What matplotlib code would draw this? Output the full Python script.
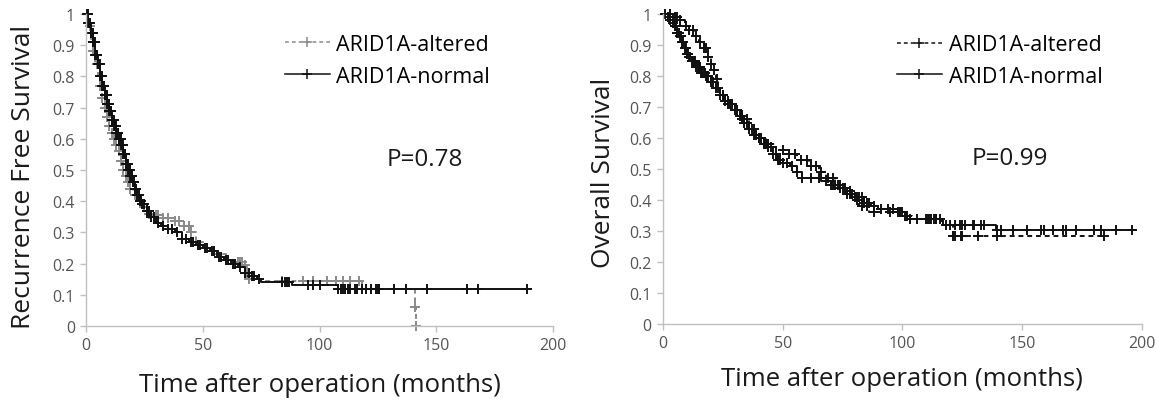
import numpy as np
import matplotlib
matplotlib.use("Agg")
import matplotlib.pyplot as plt

plt.rcParams['font.family'] = ['Open Sans', 'DejaVu Sans']

# Recurrence free survival, ARID1A-normal (step times / survival after step)
rfs_norm_t = [0, 1, 2, 3, 4, 5, 6, 7, 8, 9, 10, 11, 12, 13, 14, 15, 16, 17, 18, 19, 20,
              21, 22, 23, 24, 26, 28, 30, 32, 35, 38, 41, 44, 47, 50, 53, 56, 59, 62,
              65, 68, 71, 73, 75, 88, 108, 125]
rfs_norm_s = [1.0, 0.97, 0.94, 0.91, 0.87, 0.84, 0.80, 0.77, 0.74, 0.71, 0.69, 0.66, 0.64,
              0.62, 0.60, 0.58, 0.55, 0.52, 0.50, 0.48, 0.46, 0.44, 0.42, 0.40, 0.39, 0.37,
              0.35, 0.33, 0.32, 0.31, 0.30, 0.28, 0.27, 0.26, 0.25, 0.24, 0.22, 0.21, 0.20,
              0.19, 0.17, 0.16, 0.15, 0.14, 0.13, 0.12, 0.117]
rfs_norm_end = 190
rfs_norm_cens = [0.5, 0.8, 1, 1.3, 1.6, 2, 2.3, 2.5, 2.8, 3, 3.3, 3.5, 3.8, 4, 4.3, 4.5,
                 4.8, 5, 5.3, 5.5, 5.8, 6, 6.3, 6.5, 6.8, 7, 7.3, 7.5, 7.8, 8, 8.3, 8.5,
                 8.8, 9, 9.3, 9.5, 9.8, 10, 10.3, 10.5, 10.8, 11, 11.3, 11.5, 11.8, 12,
                 12.3, 12.5, 12.8, 13, 13.3, 13.5, 13.8, 14, 14.3, 14.5, 14.8, 15, 15.3,
                 15.5, 15.8, 16, 16.3, 16.5, 16.8, 17, 17.3, 17.5, 17.8, 18, 18.3, 18.5,
                 18.8, 19, 19.3, 19.5, 19.8, 20, 20.5, 21, 21.5, 22, 22.5, 23, 23.5, 24,
                 25, 26, 27, 28, 29, 31, 33, 35, 37, 39, 41, 43, 45, 46, 48, 49, 51, 52,
                 54, 55, 57, 58, 60, 61, 63, 64, 66, 68, 70, 71, 72, 74, 84, 85, 86, 87, 95,
                 97, 100, 108, 109, 110, 111, 112, 113, 115, 116, 118, 120, 122, 124, 125,
                 125.5, 132, 137, 146, 163, 168, 189]

# Recurrence free survival, ARID1A-altered
rfs_alt_t = [0, 1, 2, 3, 4, 5, 6, 7, 8, 9, 10, 11, 12, 13, 14, 15, 16, 17, 18, 19, 20,
             22, 24, 26, 29, 33, 38, 42, 45, 47, 50, 55, 60, 64, 68, 69, 70, 76, 118,
             141, 141.5]
rfs_alt_s = [1.0, 0.96, 0.92, 0.88, 0.84, 0.80, 0.77, 0.73, 0.70, 0.67, 0.64, 0.62, 0.60,
             0.58, 0.56, 0.53, 0.50, 0.48, 0.46, 0.44, 0.42, 0.40, 0.38, 0.36, 0.355, 0.345,
             0.335, 0.32, 0.30, 0.27, 0.25, 0.23, 0.21, 0.205, 0.195, 0.17, 0.15, 0.145,
             0.12, 0.06, 0.0]
rfs_alt_end = 141.5
rfs_alt_cens = [1.5, 3, 4.5, 6, 7, 8, 9, 10, 11, 12, 13, 14, 15, 16, 17, 18, 19, 21, 23,
                25, 27, 30, 31, 33, 35, 38, 40, 42, 44, 45, 65, 66, 67, 68, 69, 70, 84, 93,
                97, 103, 107, 110, 113, 117, 141, 141.5]

# Overall survival, ARID1A-normal
os_norm_t = [0, 2, 3, 4, 5, 6, 7, 8, 9, 10, 11, 12, 14, 16, 18, 20, 22, 24, 26, 28, 30,
             32, 34, 36, 38, 40, 42, 44, 46, 48, 50, 53, 56, 58, 66, 70, 74, 77, 80, 84,
             87, 90, 98, 101, 103, 117, 139]
os_norm_s = [1.0, 0.99, 0.98, 0.97, 0.96, 0.94, 0.93, 0.91, 0.89, 0.87, 0.86, 0.85, 0.83,
             0.81, 0.80, 0.78, 0.76, 0.74, 0.72, 0.71, 0.69, 0.67, 0.65, 0.63, 0.61, 0.60,
             0.58, 0.57, 0.55, 0.53, 0.52, 0.51, 0.49, 0.47, 0.46, 0.45, 0.44, 0.42, 0.41,
             0.39, 0.38, 0.37, 0.36, 0.35, 0.34, 0.32, 0.303]
os_norm_end = 197
os_norm_cens = [1, 2, 3, 4, 5, 5.5, 6, 6.5, 7, 7.5, 8, 8.5, 9, 9.5, 10, 10.5, 11, 11.5, 12,
                12.5, 13, 13.5, 14, 14.5, 15, 15.5, 16, 16.5, 17, 17.5, 18, 18.5, 19, 20,
                21, 22, 23, 24, 25, 26, 27, 28, 29, 30, 31, 32, 33, 34, 35, 36, 37, 38, 39,
                40, 41, 42, 43, 44, 45, 46, 47, 48, 49, 50, 52, 54, 56, 58, 62, 65, 68, 70,
                71, 72, 73, 74, 75, 76, 77, 78, 79, 80, 81, 82, 83, 84, 85, 86, 88, 91, 94,
                96, 98, 99, 100, 101, 102, 103, 106, 110, 110.5, 111, 112, 113, 114, 115.5,
                118, 120, 122, 124, 125, 126, 129.5, 130, 133, 134, 139.5, 141, 146, 152,
                158, 159, 163, 167, 168.5, 172.5, 180, 183, 189, 196]

# Overall survival, ARID1A-altered
os_alt_t = [0, 4, 7, 9, 11, 13, 15, 17, 19, 20, 21, 22, 23, 24, 26, 30, 33, 36, 39, 43,
            47, 51, 56, 61, 65, 68, 72, 76, 79, 82, 86, 101, 104, 116, 121]
os_alt_s = [1.0, 0.99, 0.98, 0.96, 0.95, 0.93, 0.91, 0.89, 0.86, 0.84, 0.82, 0.79, 0.76,
            0.74, 0.71, 0.69, 0.66, 0.63, 0.60, 0.58, 0.56, 0.55, 0.53, 0.51, 0.49, 0.47,
            0.45, 0.43, 0.40, 0.38, 0.36, 0.35, 0.34, 0.32, 0.283]
os_alt_end = 185
os_alt_cens = [3, 5, 6, 7, 9.5, 11, 12.5, 14, 15.5, 17, 18, 19, 20, 21.5, 22.5, 25, 27, 29,
               31, 33, 35, 38, 40, 44, 50, 52.5, 55, 57.5, 60, 62, 64, 66, 69, 71, 74, 78,
               81, 83, 85, 88, 95, 99, 102, 114, 121, 122, 124.5, 125, 131.5, 139.5, 184]

panels = [
    dict(title="Recurrence Free Survival", p="P=0.78",
         alt=(rfs_alt_t, rfs_alt_s, rfs_alt_end, rfs_alt_cens), alt_color='#8a8a8a',
         norm=(rfs_norm_t, rfs_norm_s, rfs_norm_end, rfs_norm_cens),
         pos=[0.0743, 0.1866, 0.4033, 0.7761], ylab=(-0.133, 0.48), xlab=-0.186,
         leg=(0.426, 0.936)),
    dict(title="Overall Survival", p="P=0.99",
         alt=(os_alt_t, os_alt_s, os_alt_end, os_alt_cens), alt_color='#111111',
         norm=(os_norm_t, os_norm_s, os_norm_end, os_norm_cens),
         pos=[0.5725, 0.1915, 0.4136, 0.7711], ylab=(-0.125, 0.49), xlab=-0.177,
         leg=(0.489, 0.935)),
]

LW = 1.4
MS = 7


def km(ax, data, color, ls, label):
    t, s, end, cens = data
    t = np.array(list(t) + [end])
    s = np.array(list(s) + [s[-1]])
    ax.step(t, s, where='post', color=color, lw=LW, ls=ls, clip_on=False)
    idx = np.searchsorted(t[:-1], cens, side='right') - 1
    ax.plot(cens, s[idx], ls='none', marker='+', ms=MS, mew=LW, color=color,
            clip_on=False)
    return plt.Line2D([], [], color=color, lw=1.1, ls=ls, marker='+', ms=MS, mew=1.1,
                      label=label)


fig = plt.figure(figsize=(11.58, 4.02), dpi=100)
for p in panels:
    ax = fig.add_axes(p['pos'])
    h_alt = km(ax, p['alt'], p['alt_color'], (0, (2.5, 2)), "ARID1A-altered")
    h_norm = km(ax, p['norm'], '#111111', '-', "ARID1A-normal")
    ax.set_xlim(0, 200)
    ax.set_ylim(0, 1)
    ax.set_xticks([0, 50, 100, 150, 200])
    ax.set_yticks(np.arange(0, 1.01, 0.1))
    ax.set_yticklabels(["0", "0.1", "0.2", "0.3", "0.4", "0.5", "0.6", "0.7", "0.8",
                        "0.9", "1"])
    for side in ['top', 'right']:
        ax.spines[side].set_visible(False)
    for side in ['left', 'bottom']:
        ax.spines[side].set_color('#c0c0c0')
        ax.spines[side].set_linewidth(1.0)
    ax.tick_params(colors='#c0c0c0', labelcolor='#555555', labelsize=11.5, length=4,
                   width=1.0, pad=4)
    ax.set_ylabel(p['title'], fontsize=19, va='center', color='#1a1a1a')
    ax.yaxis.set_label_coords(*p['ylab'])
    ax.set_xlabel("Time after operation (months)", fontsize=18.5, va='center',
                  color='#1a1a1a')
    ax.xaxis.set_label_coords(0.5, p['xlab'])
    ax.text(145, 0.535, p['p'], fontsize=17.5, ha='center', va='center', color='#1a1a1a')
    ax.legend(handles=[h_alt, h_norm], loc='upper left', bbox_to_anchor=p['leg'],
              frameon=False, fontsize=15.5, handlelength=2.07, handletextpad=0.32,
              labelspacing=0.5, borderpad=0, borderaxespad=0, numpoints=1)

fig.savefig("out.png", dpi=100)
